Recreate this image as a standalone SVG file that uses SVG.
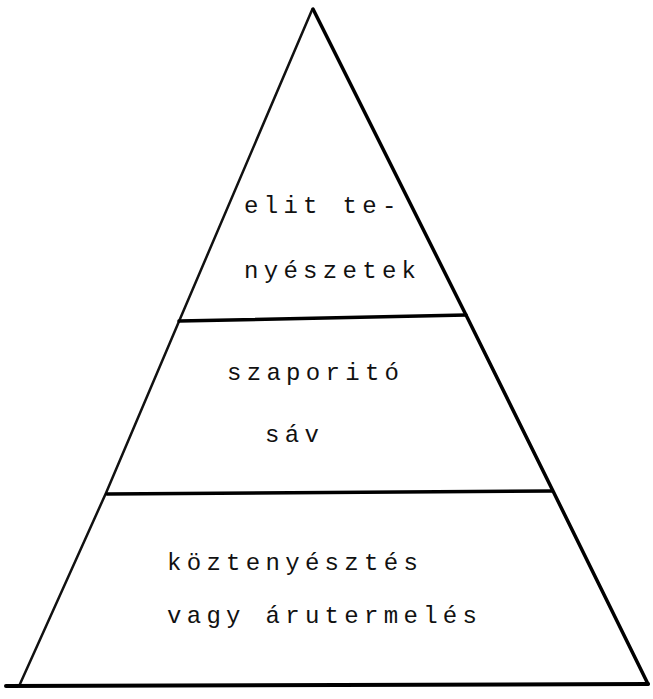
<svg xmlns="http://www.w3.org/2000/svg" width="653" height="699" viewBox="0 0 653 699">
<style>
.ln{stroke:#000;stroke-width:3.5;fill:none;stroke-linecap:round}
.lf{stroke:#111;stroke-width:2.5;fill:none;stroke-linecap:round}
.t{font-family:"Liberation Mono","DejaVu Sans Mono",monospace;font-size:24px;fill:#111;letter-spacing:5.3px}
</style>
<rect width="653" height="699" fill="#fff"/>
<g id="connectors">
<path class="lf" d="M312,10 L180,319 L106,493 L20,684"/>
<path class="ln" d="M313,9 L467,317 L553,491 L648,684"/>
<path class="ln" d="M179,321 L466,315"/>
<path class="ln" d="M107,494 L552,491"/>
<path class="ln" d="M6,686 L648,684" style="stroke-width:4"/>
</g>
<g id="elit">
<text class="t" x="244" y="213">elit te-</text>
<text class="t" x="244" y="278">nyészetek</text>
</g>
<g id="szaporito">
<text class="t" x="227" y="380">szaporitó</text>
<text class="t" x="265" y="442">sáv</text>
</g>
<g id="koztenyesztes">
<text class="t" x="167" y="570">köztenyésztés</text>
<text class="t" x="167" y="623">vagy árutermelés</text>
</g>
</svg>
